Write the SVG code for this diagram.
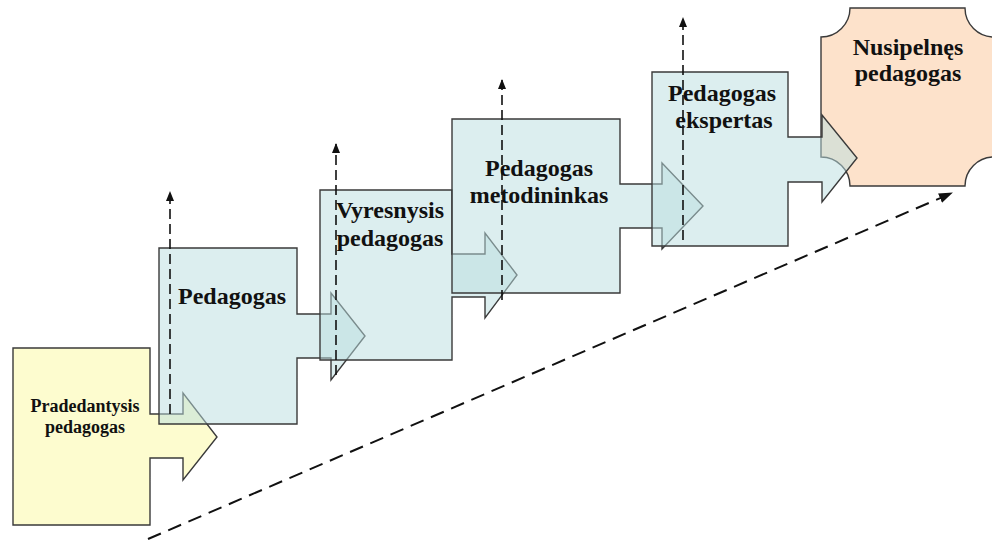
<svg xmlns="http://www.w3.org/2000/svg" width="992" height="540" viewBox="0 0 992 540">
<style>
.shape{stroke:#3a3a3a;stroke-width:1.4;stroke-linejoin:miter}
.blue{fill:#b9dde0;fill-opacity:0.5}
.yellow{fill:#fbf99f;fill-opacity:0.5}
.peach{fill:#fbcba1;fill-opacity:0.55}
.lbl{font-family:"Liberation Serif","Times New Roman",serif;font-weight:bold;fill:#111;text-anchor:middle}
.big{font-size:24px}
.small{font-size:18px}
.dash{stroke:#111;stroke-width:1.6;fill:none;stroke-dasharray:10 5}
.dash2{stroke:#111;stroke-width:2;fill:none;stroke-dasharray:14 8}
</style>
<defs>
<marker id="ah" markerWidth="10" markerHeight="10" refX="9" refY="5" orient="auto" markerUnits="userSpaceOnUse">
<path d="M0,1 L10,5 L0,9 Z" fill="#111"/>
</marker>
<marker id="ah2" markerWidth="14" markerHeight="12" refX="13" refY="6" orient="auto" markerUnits="userSpaceOnUse">
<path d="M0,1 L14,6 L0,11 Z" fill="#111"/>
</marker>
</defs>
<rect width="992" height="540" fill="#fff"/>
<g id="node-pradedantysis">
<path class="shape yellow" d="M13,348 H150 V414 H183 V393 L217,437 L183,480 V458 H150 V525 H13 Z"/>
<text class="lbl small" x="85" y="412">Pradedantysis</text>
<text class="lbl small" x="85" y="433">pedagogas</text>
</g>
<g id="node-pedagogas">
<path class="shape blue" d="M159,248 H297 V314 H331 V293 L365,336 L331,380 V358 H297 V424 H159 Z"/>
<text class="lbl big" x="232" y="304">Pedagogas</text>
</g>
<g id="node-vyresnysis">
<path class="shape blue" d="M320,190 H452 V254 H485 V233 L517,275 L485,318 V297 H452 V360 H320 Z"/>
<text class="lbl big" x="390" y="218">Vyresnysis</text>
<text class="lbl big" x="390" y="246">pedagogas</text>
</g>
<g id="node-metodininkas">
<path class="shape blue" d="M452,119 H620 V184 H662 V163 L703,206 L662,249 V228 H620 V293 H452 Z"/>
<text class="lbl big" x="539" y="176">Pedagogas</text>
<text class="lbl big" x="539" y="203">metodininkas</text>
</g>
<g id="node-nusipelnes">
<path class="shape peach" d="M850,8 H965 A29,29 0 0 0 994,37 V157 A29,29 0 0 0 965,186 H850 A29,29 0 0 0 821,157 V37 A29,29 0 0 0 850,8 Z"/>
<text class="lbl big" x="908" y="55">Nusipelnęs</text>
<text class="lbl big" x="908" y="81">pedagogas</text>
</g>
<g id="node-ekspertas">
<path class="shape blue" d="M652,72 H788 V137 H822 V115 L857,158 L822,202 V182 H788 V246 H652 Z"/>
<text class="lbl big" x="722" y="101">Pedagogas</text>
<text class="lbl big" x="724" y="128">ekspertas</text>
</g>
<g id="connectors">
<line class="dash" x1="170" y1="414" x2="170" y2="192" marker-end="url(#ah)"/>
<line class="dash" x1="336" y1="375" x2="336" y2="144" marker-end="url(#ah)"/>
<line class="dash" x1="502" y1="300" x2="502" y2="80" marker-end="url(#ah)"/>
<line class="dash" x1="683" y1="240" x2="683" y2="18" marker-end="url(#ah)"/>
<line class="dash2" x1="148" y1="539" x2="952" y2="193" marker-end="url(#ah2)"/>
</g>
</svg>
